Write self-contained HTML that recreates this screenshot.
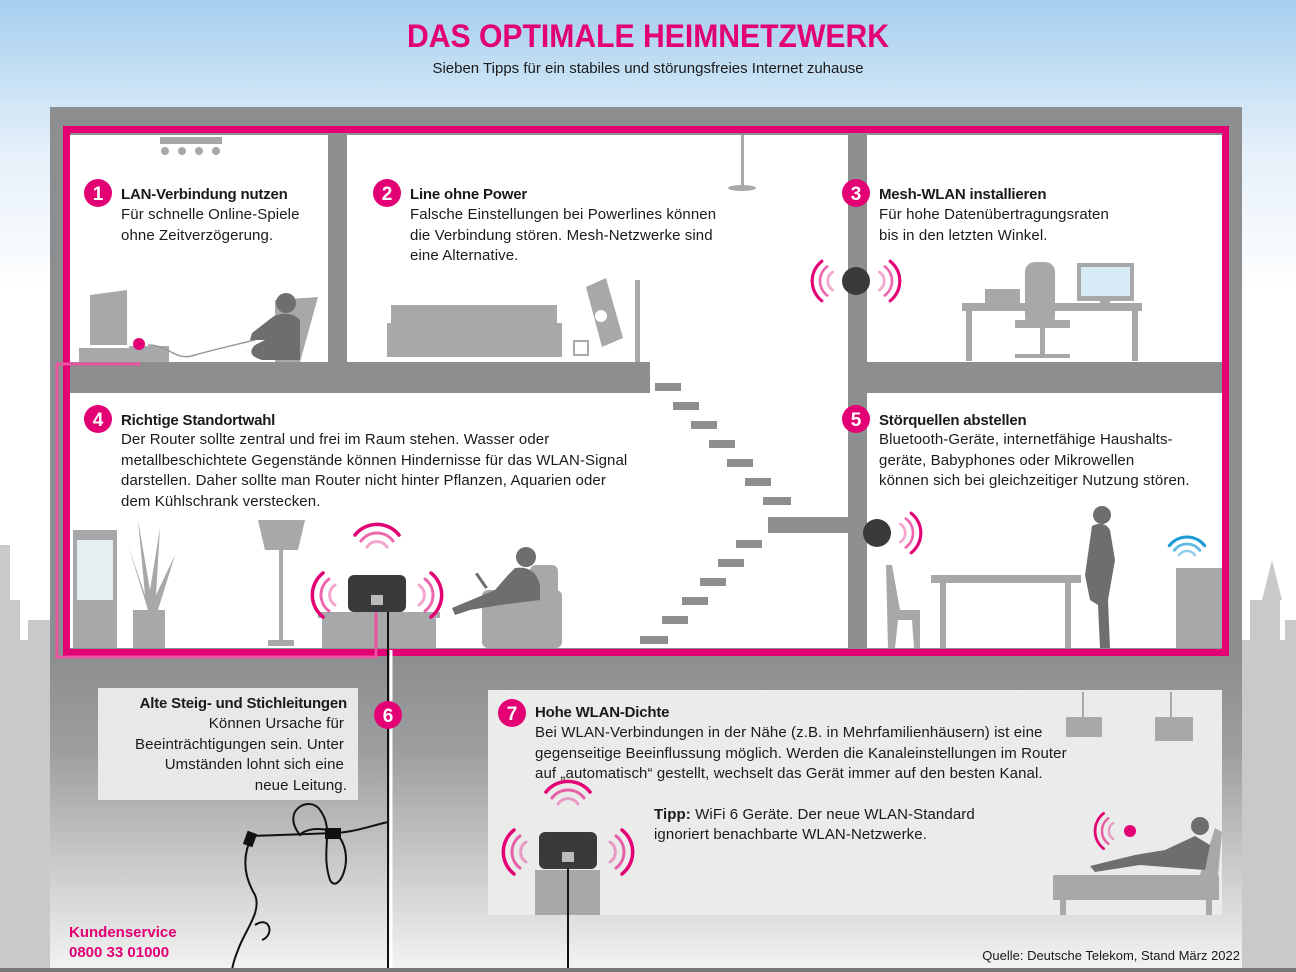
<!DOCTYPE html>
<html><head><meta charset="utf-8"><style>
html,body{margin:0;padding:0;width:1296px;height:972px;overflow:hidden;background:#fff}
svg{display:block}
text{font-family:"Liberation Sans",sans-serif;fill:#1a1a1a}
.h{font-weight:bold;font-size:15px;letter-spacing:-0.2px}
.b{font-size:15px;letter-spacing:0.1px}
.n{font-weight:bold;font-size:19px;fill:#fff}
</style></head><body>
<svg width="1296" height="972" viewBox="0 0 1296 972" xmlns="http://www.w3.org/2000/svg">
<defs>
<linearGradient id="sky" x1="0" y1="0" x2="0" y2="1">
<stop offset="0" stop-color="#a6cfee"/><stop offset="0.16" stop-color="#e6f1fa"/><stop offset="0.3" stop-color="#ffffff"/></linearGradient>
<linearGradient id="base" x1="0" y1="0" x2="0" y2="1">
<stop offset="0" stop-color="#8d8e90"/><stop offset="0.3" stop-color="#9d9ea0"/><stop offset="1" stop-color="#f4f4f4"/></linearGradient>
<g id="arcs" fill="none" stroke="#e20074" stroke-linecap="round">
<path d="M-10,-6 A12,12 0 0 1 10,-6" stroke-width="3" opacity="0.35"/>
<path d="M-16,-12 A20,20 0 0 1 16,-12" stroke-width="3" opacity="0.6"/>
<path d="M-22,-18 A28,28 0 0 1 22,-18" stroke-width="3.5"/>
</g>
<g id="router">
<g transform="translate(0,-22)"><use href="#arcs"/></g>
<g transform="translate(-36,20) rotate(-90)"><use href="#arcs"/></g>
<g transform="translate(36,20) rotate(90)"><use href="#arcs"/></g>
<rect x="-29" y="0" width="58" height="37" rx="6" fill="#3a3a3c"/>
<rect x="-6" y="20" width="12" height="10" fill="#bbb"/>
</g>
</defs>
<rect width="1296" height="972" fill="url(#sky)"/>
<g fill="#c9c9cb">
<rect x="0" y="640" width="60" height="332"/><rect x="0" y="600" width="20" height="50"/><rect x="28" y="620" width="22" height="30"/>
<rect x="0" y="545" width="10" height="60"/>
<rect x="1236" y="640" width="60" height="332"/><rect x="1250" y="600" width="30" height="45"/><polygon points="1262,600 1272,560 1282,600"/>
<rect x="1285" y="620" width="11" height="30"/>
</g>
<text x="648" y="47" text-anchor="middle" style="font-size:32px;fill:#e20074;font-weight:bold" textLength="482" lengthAdjust="spacingAndGlyphs">DAS OPTIMALE HEIMNETZWERK</text>
<text x="648" y="73" text-anchor="middle" style="font-size:15px">Sieben Tipps für ein stabiles und störungsfreies Internet zuhause</text>
<rect x="50" y="107" width="1192" height="552" fill="#8d8e90"/>
<rect x="50" y="657" width="1192" height="315" fill="url(#base)"/>
<g fill="#fff">
<rect x="70" y="135" width="258" height="227"/>
<rect x="347" y="135" width="501" height="227"/>
<rect x="650" y="360" width="198" height="40"/>
<rect x="867" y="135" width="355" height="227"/>
<rect x="70" y="393" width="778" height="255"/>
<rect x="867" y="393" width="355" height="255"/>
</g>
<g fill="#8d8e90">
<rect x="655" y="383" width="26" height="8"/><rect x="673" y="402" width="26" height="8"/><rect x="691" y="421" width="26" height="8"/><rect x="709" y="440" width="26" height="8"/><rect x="727" y="459" width="26" height="8"/><rect x="745" y="478" width="26" height="8"/><rect x="763" y="497" width="28" height="8"/>
<rect x="768" y="517" width="80" height="16"/>
<rect x="736" y="540" width="26" height="8"/><rect x="718" y="559" width="26" height="8"/><rect x="700" y="578" width="26" height="8"/><rect x="682" y="597" width="26" height="8"/><rect x="662" y="616" width="26" height="8"/><rect x="640" y="636" width="28" height="8"/>
</g>
<rect x="66.5" y="129.5" width="1159" height="523" fill="none" stroke="#e20074" stroke-width="7"/>
<path d="M139,344 V364 H57 V657 H376 V612" fill="none" stroke="#e9559f" stroke-width="3"/>
<g fill="#a7a8aa">
<rect x="160" y="137" width="62" height="7"/><circle cx="165" cy="151" r="4"/><circle cx="182" cy="151" r="4"/><circle cx="199" cy="151" r="4"/><circle cx="216" cy="151" r="4"/>
<polygon points="90,295 127,290 127,345 90,345"/>
<rect x="79" y="348" width="50" height="14"/><rect x="129" y="346" width="40" height="16"/>
<polygon points="275,300 318,297 300,362 275,362"/>
</g>
<path d="M148,345 C170,345 175,362 195,355 C220,348 235,345 255,340" fill="none" stroke="#999" stroke-width="1.5"/>
<circle cx="139" cy="344" r="6" fill="#e20074"/>
<g fill="#6d6e70"><circle cx="286" cy="303" r="10"/><path d="M274,316 Q290,310 300,320 L300,360 L262,360 Q245,355 255,345 L265,340 L250,340 L252,333 Z"/></g>
<g fill="#a7a8aa">
<rect x="741" y="135" width="3" height="50"/><ellipse cx="742" cy="188" rx="14" ry="3"/>
<rect x="391" y="305" width="166" height="18"/><rect x="387" y="323" width="175" height="34"/>
<rect x="635" y="280" width="5" height="82"/>
<polygon points="586,287 606,278 623,338 602,347"/>
<rect x="574" y="341" width="14" height="14" fill="none" stroke="#a7a8aa" stroke-width="2"/>
</g>
<circle cx="601" cy="316" r="6" fill="#fff"/>
<g fill="#a7a8aa">
<rect x="962" y="303" width="180" height="8"/><rect x="966" y="311" width="6" height="50"/><rect x="1132" y="311" width="6" height="50"/>
<rect x="985" y="289" width="35" height="14"/>
<rect x="1077" y="263" width="57" height="38"/><rect x="1100" y="300" width="10" height="5"/>
<rect x="1025" y="262" width="30" height="65" rx="10"/><rect x="1015" y="320" width="55" height="8"/><rect x="1040" y="328" width="5" height="28"/><rect x="1015" y="354" width="55" height="4"/>
</g>
<rect x="1081" y="267" width="49" height="29" fill="#d8ecf8"/>
<g transform="translate(856,281)"><circle r="14" fill="#3a3a3c"/><g transform="translate(-18,0) rotate(-90) scale(0.9)"><use href="#arcs"/></g><g transform="translate(18,0) rotate(90) scale(0.9)"><use href="#arcs"/></g></g>
<g fill="#a7a8aa">
<rect x="73" y="530" width="44" height="118"/>
<path d="M148,610 L128,545 L145,595 L138,520 L150,590 L160,528 L156,595 L175,555 L158,610 Z"/>
<rect x="133" y="610" width="32" height="38"/>
<polygon points="258,520 305,520 298,550 265,550"/><rect x="279" y="550" width="4" height="92"/><rect x="268" y="640" width="26" height="6"/>
<rect x="318" y="612" width="122" height="6"/><rect x="322" y="618" width="114" height="30"/>
<rect x="482" y="590" width="80" height="58" rx="6"/><rect x="530" y="565" width="28" height="40" rx="6"/>
</g>
<rect x="77" y="540" width="36" height="60" fill="#e6eef2"/>
<g fill="#6d6e70"><circle cx="526" cy="557" r="10"/><path d="M515,568 Q535,565 540,585 L540,600 L500,605 L470,610 L455,615 L452,608 L495,590 L508,575 Z"/><rect x="480" y="572" width="3" height="18" transform="rotate(-35 481 581)"/></g>
<line x1="376" y1="612" x2="376" y2="650" stroke="#e9559f" stroke-width="3"/>
<line x1="388" y1="612" x2="388" y2="972" stroke="#111" stroke-width="2"/>
<line x1="391" y1="650" x2="391" y2="972" stroke="#fff" stroke-width="3"/>
<g transform="translate(377,575)"><use href="#router"/></g>
<g transform="translate(877,533)"><circle r="14" fill="#3a3a3c"/><g transform="translate(18,0) rotate(90) scale(0.9)"><use href="#arcs"/></g></g>
<g fill="#a7a8aa">
<rect x="931" y="575" width="150" height="8"/><rect x="940" y="583" width="6" height="65"/><rect x="1065" y="583" width="6" height="65"/>
<path d="M886,565 L892,565 L900,610 L920,610 L920,648 L914,648 L912,620 L898,620 L895,648 L888,648 Z"/>
<rect x="1176" y="568" width="46" height="80"/>
</g>
<g fill="#6d6e70"><circle cx="1102" cy="515" r="9"/><path d="M1092,526 Q1104,520 1110,530 L1115,560 L1108,600 L1110,648 L1100,648 L1098,605 L1090,600 L1085,575 Z"/></g>
<g transform="translate(1187,560) scale(0.8)" ><g fill="none" stroke="#1e9bd7" stroke-linecap="round"><path d="M-10,-6 A12,12 0 0 1 10,-6" stroke-width="3" opacity="0.5"/><path d="M-16,-12 A20,20 0 0 1 16,-12" stroke-width="3.5" opacity="0.7"/><path d="M-22,-18 A28,28 0 0 1 22,-18" stroke-width="4"/></g></g>
<rect x="98" y="688" width="260" height="112" fill="#e8e8e9"/>
<rect x="488" y="690" width="734" height="225" fill="#ebebec"/>
<g fill="none" stroke="#111" stroke-width="2">
<path d="M388,822 C370,826 355,832 335,833 C310,834 280,835 252,836 C245,850 240,870 255,895 C262,912 245,930 238,950 C234,960 232,968 232,972"/>
<path d="M300,835 C280,810 310,795 320,810 C335,830 320,850 330,880 C338,895 355,860 340,838 C330,825 305,828 300,835 Z"/>
<path d="M255,925 C270,915 275,935 262,940"/>
</g>
<rect x="325" y="828" width="16" height="11" fill="#111"/><rect x="245" y="832" width="10" height="14" fill="#111" transform="rotate(20 250 839)"/>
<g fill="#a7a8aa">
<rect x="1082" y="692" width="2" height="25"/><rect x="1066" y="717" width="36" height="20"/>
<rect x="1170" y="692" width="2" height="25"/><rect x="1155" y="717" width="38" height="24"/>
<rect x="535" y="870" width="65" height="45"/>
<rect x="1053" y="875" width="166" height="25"/><rect x="1060" y="900" width="6" height="15"/><rect x="1206" y="900" width="6" height="15"/>
<polygon points="1200,875 1215,828 1222,832 1218,875"/>
</g>
<g fill="#6d6e70"><circle cx="1200" cy="826" r="9"/><path d="M1195,836 L1210,845 L1205,870 L1140,865 L1095,872 L1090,866 L1135,855 L1165,850 Z"/></g>
<circle cx="1130" cy="831" r="6" fill="#e20074"/>
<g transform="translate(1118,831) rotate(-90) scale(0.8)"><use href="#arcs"/></g>
<line x1="568" y1="850" x2="568" y2="972" stroke="#111" stroke-width="2"/>
<g transform="translate(568,832)"><use href="#router"/></g>
<g fill="#e20074"><circle cx="98" cy="193" r="14"/><circle cx="387" cy="193" r="14"/><circle cx="856" cy="193" r="14"/><circle cx="98" cy="419" r="14"/><circle cx="856" cy="419" r="14"/><circle cx="388" cy="715" r="14"/><circle cx="512" cy="713" r="14"/></g>
<g text-anchor="middle"><text class="n" x="98" y="200">1</text><text class="n" x="387" y="200">2</text><text class="n" x="856" y="200">3</text><text class="n" x="98" y="426">4</text><text class="n" x="856" y="426">5</text><text class="n" x="388" y="722">6</text><text class="n" x="512" y="720">7</text></g>
<text class="h" x="121" y="199">LAN-Verbindung nutzen</text>
<text class="b" x="121" y="219">Für schnelle Online-Spiele</text>
<text class="b" x="121" y="240">ohne Zeitverzögerung.</text>
<text class="h" x="410" y="199">Line ohne Power</text>
<text class="b" x="410" y="219">Falsche Einstellungen bei Powerlines können</text>
<text class="b" x="410" y="240">die Verbindung stören. Mesh-Netzwerke sind</text>
<text class="b" x="410" y="260">eine Alternative.</text>
<text class="h" x="879" y="199">Mesh-WLAN installieren</text>
<text class="b" x="879" y="219">Für hohe Datenübertragungsraten</text>
<text class="b" x="879" y="240">bis in den letzten Winkel.</text>
<text class="h" x="121" y="425">Richtige Standortwahl</text>
<text class="b" x="121" y="444">Der Router sollte zentral und frei im Raum stehen. Wasser oder</text>
<text class="b" x="121" y="465">metallbeschichtete Gegenstände können Hindernisse für das WLAN-Signal</text>
<text class="b" x="121" y="485">darstellen. Daher sollte man Router nicht hinter Pflanzen, Aquarien oder</text>
<text class="b" x="121" y="506">dem Kühlschrank verstecken.</text>
<text class="h" x="879" y="425">Störquellen abstellen</text>
<text class="b" x="879" y="444">Bluetooth-Geräte, internetfähige Haushalts-</text>
<text class="b" x="879" y="465">geräte, Babyphones oder Mikrowellen</text>
<text class="b" x="879" y="485">können sich bei gleichzeitiger Nutzung stören.</text>
<g text-anchor="end">
<text class="h" x="347" y="708">Alte Steig- und Stichleitungen</text>
<text class="b" x="344" y="728">Können Ursache für</text>
<text class="b" x="344" y="749">Beeinträchtigungen sein. Unter</text>
<text class="b" x="344" y="769">Umständen lohnt sich eine</text>
<text class="b" x="347" y="790">neue Leitung.</text>
</g>
<text class="h" x="535" y="717">Hohe WLAN-Dichte</text>
<text class="b" x="535" y="737">Bei WLAN-Verbindungen in der Nähe (z.B. in Mehrfamilienhäusern) ist eine</text>
<text class="b" x="535" y="758">gegenseitige Beeinflussung möglich. Werden die Kanaleinstellungen im Router</text>
<text class="b" x="535" y="778">auf „automatisch“ gestellt, wechselt das Gerät immer auf den besten Kanal.</text>
<text class="b" x="654" y="819"><tspan style="font-weight:bold">Tipp:</tspan> WiFi 6 Geräte. Der neue WLAN-Standard</text>
<text class="b" x="654" y="839">ignoriert benachbarte WLAN-Netzwerke.</text>
<text x="69" y="937" style="font-size:15px;fill:#e20074;font-weight:bold">Kundenservice</text>
<text x="69" y="957" style="font-size:15px;fill:#e20074;font-weight:bold">0800 33 01000</text>
<text x="1240" y="960" text-anchor="end" style="font-size:13px">Quelle: Deutsche Telekom, Stand März 2022</text>
<rect x="0" y="968" width="1296" height="4" fill="#777"/>
</svg>
</body></html>
